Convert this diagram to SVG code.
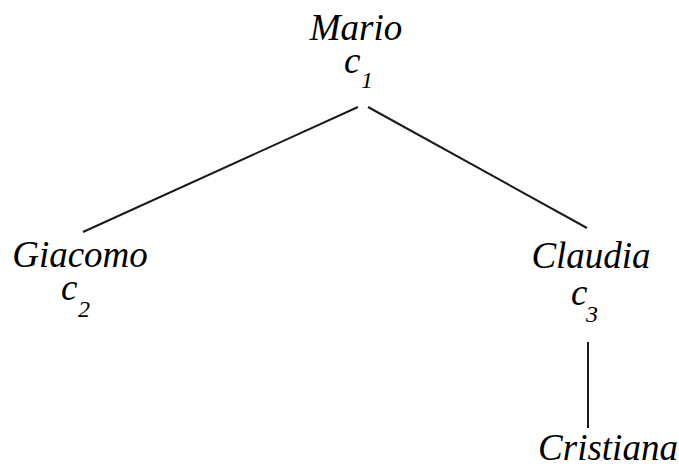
<svg xmlns="http://www.w3.org/2000/svg" width="679" height="467" viewBox="0 0 679 467">
<style>
text{font-family:"Liberation Serif","Times New Roman",serif;font-style:italic;fill:#000}
.n{font-size:37px}
.s{font-size:24px}
line{stroke:#1a1a1a;stroke-width:2}
</style>
<rect width="679" height="467" fill="#fff"/>
<g id="connectors">
<line x1="358" y1="107" x2="83" y2="232"/>
<line x1="368" y1="107" x2="587" y2="228"/>
<line x1="588" y1="342" x2="588" y2="428"/>
</g>
<g id="mario">
<text class="n" x="356" y="40" text-anchor="middle">Mario</text>
<text class="n" x="344" y="73">c</text><text class="s" x="361" y="88">1</text>
</g>
<g id="giacomo">
<text class="n" x="80" y="267" text-anchor="middle">Giacomo</text>
<text class="n" x="61" y="300">c</text><text class="s" x="78" y="317">2</text>
</g>
<g id="claudia">
<text class="n" x="591" y="268" text-anchor="middle">Claudia</text>
<text class="n" x="571" y="305">c</text><text class="s" x="586" y="322">3</text>
</g>
<g id="cristiana">
<text class="n" x="608" y="460" text-anchor="middle">Cristiana</text>
</g>
</svg>
